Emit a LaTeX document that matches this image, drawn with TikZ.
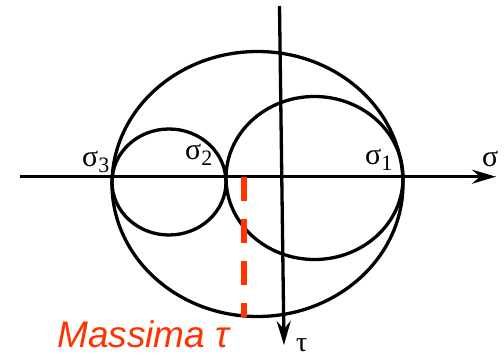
\documentclass[tikz,border=0pt]{standalone}
\usepackage{fontspec}
\setmainfont{Liberation Serif}
\newfontfamily\labsans{Liberation Sans}
\usetikzlibrary{arrows.meta}
\definecolor{maxred}{RGB}{255,51,0}
\tikzset{
  thick line/.style={line width=3.3pt, black},
  axisarrow/.style={thick line, -{Stealth[length=24pt,width=14pt,inset=8pt]}},
  lbl/.style={inner sep=0pt, anchor=base west, font=\fontsize{30}{30}\selectfont},
  maxdash/.style={line width=6pt, maxred, dash pattern=on 24pt off 18pt},
}
\newcommand{\subdig}[1]{\raisebox{-6pt}{\fontsize{22}{22}\selectfont #1}}
\begin{document}
\begin{tikzpicture}[x=1pt,y=-1pt]
\useasboundingbox (0,0) rectangle (504,358);
% axes
\coordinate (hs) at (20,176.7);
\coordinate (he) at (496,176.7);
\coordinate (vs) at (279.5,6);
\coordinate (ve) at (284,345);
\draw[axisarrow] (hs) -- (he);
\draw[axisarrow] (vs) -- (ve);
% Mohr circles
\coordinate (cbig) at (257.5,184);
\coordinate (csmall) at (169,182);
\coordinate (cright) at (314.5,178);
\draw[thick line] (cbig) ellipse [x radius=145.5pt, y radius=132.5pt];
\draw[thick line] (csmall) ellipse [x radius=57pt, y radius=53pt];
\draw[thick line] (cright) ellipse [x radius=88.5pt, y radius=81.5pt];
% maximum tau
\coordinate (mtop) at (244,176.7);
\coordinate (mbot) at (244,317);
\draw[maxdash] (mtop) -- (mbot);
% labels
\node[lbl] (s3) at (82,167) {σ\subdig{3}};
\node[lbl] (s2) at (185,160) {σ\subdig{2}};
\node[lbl] (s1) at (365,165) {σ\subdig{1}};
\node[lbl] (sig) at (482,167) {σ};
\node[lbl, font=\fontsize{28}{28}\selectfont] (tau) at (296,352) {τ};
\node[inner sep=0pt, anchor=base west, text=maxred, font=\labsans\itshape\fontsize{37}{37}\selectfont] (massima) at (57,348) {Massima τ};
\end{tikzpicture}
\end{document}
